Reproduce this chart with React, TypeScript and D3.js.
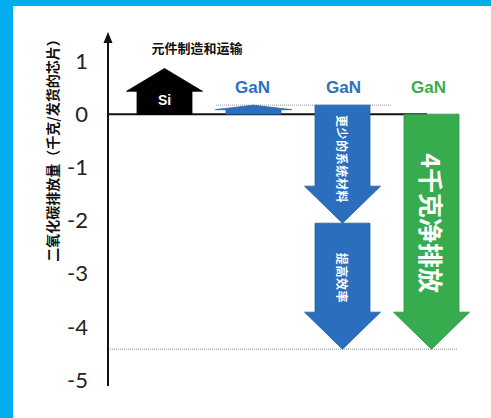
import React from "react";
import * as d3 from "d3";

const W = 491;
const H = 418;

// data
const columns = ["Si", "GaN-a", "GaN-b", "GaN-c"];
const arrowColumn = ["Si", "GaN-a", "GaN-b", "GaN-b", "GaN-c"];
const arrowStart = [0, 0, 0.17, -2.05, 0];
const arrowEnd = [0.86, 0.17, -2.05, -4.42, -4.42];
const arrowKind = ["black", "blue", "blue", "blue", "green"];
const arrowText = ["Si", "", "更少的系统材料", "提高效率", "4千克净排放"];
const columnLabels = ["", "GaN", "GaN", "GaN"];
const columnLabelKind = ["", "blue", "blue", "green"];
const yTicks = [1, 0, -1, -2, -3, -4, -5];
const topNote = "元件制造和运输";
const yTitle = "二氧化碳排放量（千克/发货的芯片）";
const refLevels = [0.17, -4.42];

const fills: Record<string, string> = { black: "#000000", blue: "#2B6EBE", green: "#37AC4F" };
const strokes: Record<string, string> = { black: "#000000", blue: "#2A5F9E", green: "#2E8F42" };
const labelFills: Record<string, string> = { blue: "#2C70C1", green: "#3AAB4C" };

const CJK = "'Noto Sans CJK SC', 'Noto Sans', sans-serif";

export default function App() {
  const y = d3.scaleLinear().domain([-5, 1]).range([380, 61]);
  const x = d3.scaleBand<string>().domain(columns).range([120, 476]);
  const axisX = 108;
  const bodyW = 55;
  const headW = 76;

  const arrowPath = (col: string, v0: number, v1: number) => {
    const cx = (x(col) as number) + x.bandwidth() / 2;
    const y0 = y(v0);
    const y1 = y(v1);
    const len = Math.abs(y1 - y0);
    const dir = y1 < y0 ? -1 : 1;
    const head = Math.min(len / 2, 37);
    const yh = y1 - dir * head;
    const p = d3.path();
    p.moveTo(cx - bodyW / 2, y0);
    p.lineTo(cx - bodyW / 2, yh);
    p.lineTo(cx - headW / 2, yh);
    p.lineTo(cx, y1);
    p.lineTo(cx + headW / 2, yh);
    p.lineTo(cx + bodyW / 2, yh);
    p.lineTo(cx + bodyW / 2, y0);
    p.closePath();
    return p.toString();
  };

  const colCenter = (col: string) => (x(col) as number) + x.bandwidth() / 2;

  return (
    <svg width={W} height={H} style={{ position: "absolute", left: 0, top: 0 }}>
      <rect x={0} y={0} width={W} height={H} fill="#ffffff" />
      <rect x={0} y={0} width={W} height={6} fill="#00AEEF" />
      <rect x={0} y={0} width={13} height={H} fill="#00AEEF" />

      {/* reference dotted lines */}
      <line x1={216} x2={392} y1={y(refLevels[0])} y2={y(refLevels[0])} stroke="#9a9a9a" strokeWidth={1} strokeDasharray="1,1" />
      <line x1={axisX} x2={457} y1={y(refLevels[1])} y2={y(refLevels[1])} stroke="#8a8a8a" strokeWidth={1} strokeDasharray="1,1" />

      {/* baseline */}
      <line x1={axisX} x2={427} y1={y(0)} y2={y(0)} stroke="#111" strokeWidth={2} />

      {/* arrows */}
      {arrowStart.map((s, i) => (
        <path key={i} d={arrowPath(arrowColumn[i], s, arrowEnd[i])} fill={fills[arrowKind[i]]} stroke={strokes[arrowKind[i]]} strokeWidth={0.8} />
      ))}

      {/* arrow texts */}
      {arrowText.map((t, i) => {
        if (!t) return null;
        const cx = colCenter(arrowColumn[i]);
        if (i === 0) {
          return (
            <text key={i} x={cx} y={y(0) - 9} textAnchor="middle" fill="#fff" fontFamily="'Liberation Sans', Arial, sans-serif" fontWeight="bold" fontSize={14}>
              {t}
            </text>
          );
        }
        const isGreen = arrowKind[i] === "green";
        let cy: number;
        if (i === 2) cy = 159;
        else if (i === 3) cy = 278;
        else cy = 223;
        const fs = isGreen ? 25 : 12;
        return (
          <text
            key={i}
            transform={`translate(${cx},${cy}) rotate(90)`}
            textAnchor="middle"
            dominantBaseline="central"
            fill="#fff"
            fontFamily={CJK}
            fontWeight="bold"
            fontSize={fs}
            letterSpacing={isGreen ? 0 : 0.6}
          >
            {t}
          </text>
        );
      })}

      {/* column labels */}
      {columnLabels.map((l, i) =>
        l ? (
          <text key={i} x={colCenter(columns[i]) + (i === 2 ? 1 : i === 3 ? -3 : -1)} y={93} textAnchor="middle" fill={labelFills[columnLabelKind[i]]} fontFamily="'Liberation Sans', Arial, sans-serif" fontWeight="bold" fontSize={17}>
            {l}
          </text>
        ) : null
      )}

      <text x={197} y={53} textAnchor="middle" fill="#111" fontFamily={CJK} fontWeight="bold" fontSize={13}>
        {topNote}
      </text>

      {/* y axis */}
      <line x1={axisX} x2={axisX} y1={40} y2={386} stroke="#111" strokeWidth={2} />
      <path d={`M${axisX - 4.5},${43} L${axisX},${32} L${axisX + 4.5},${43} Z`} fill="#111" />

      {yTicks.map((t) => (
        <text key={t} x={88} y={y(t)} dy="0.35em" textAnchor="end" fill="#222" fontFamily="Lato, 'Liberation Sans', sans-serif" fontSize={22}>
          {t}
        </text>
      ))}

      <text transform={`translate(52,147) rotate(-90)`} textAnchor="middle" dominantBaseline="central" fill="#111" fontFamily={CJK} fontWeight="bold" fontSize={14}>
        {yTitle}
      </text>
    </svg>
  );
}
